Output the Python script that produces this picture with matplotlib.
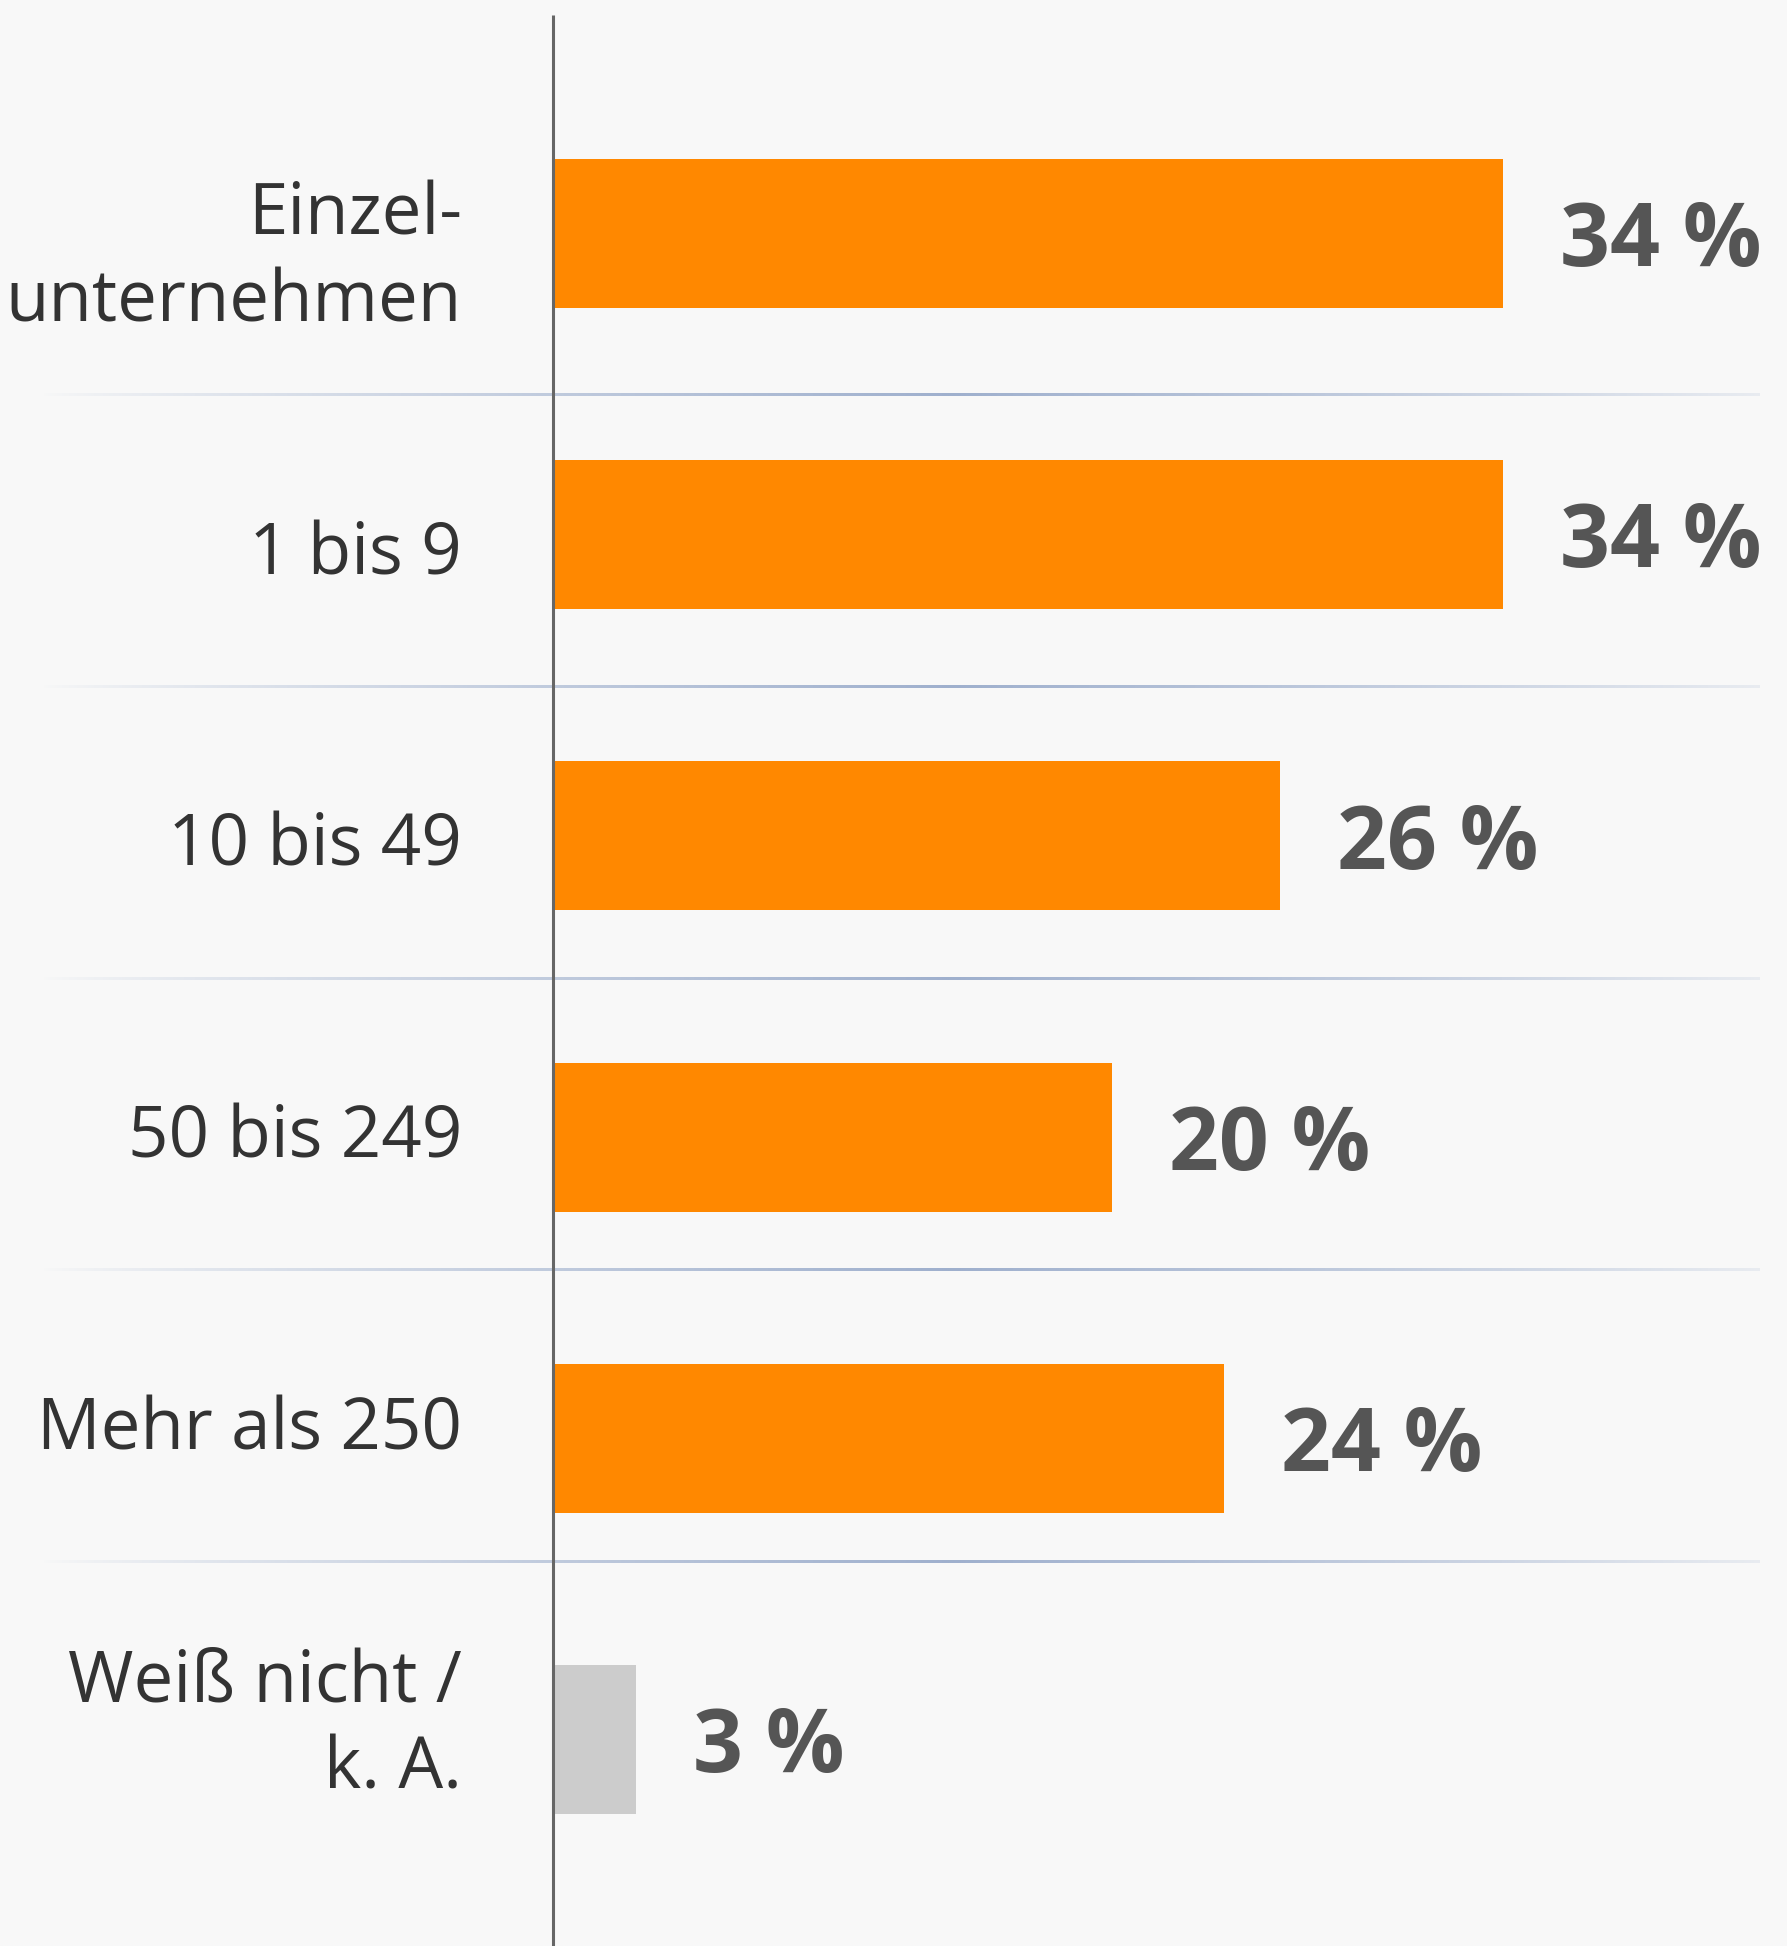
import numpy as np
import matplotlib
matplotlib.use('Agg')
import matplotlib.pyplot as plt

# Daten
kategorien = ['Einzel-\nunternehmen', '1 bis 9', '10 bis 49', '50 bis 249', 'Mehr als 250', 'Weiß nicht /\nk. A.']
werte = [34, 34, 26, 20, 24, 3]
farben = ['#ff8800', '#ff8800', '#ff8800', '#ff8800', '#ff8800', '#cccccc']
beschriftung = ['34 %', '34 %', '26 %', '20 %', '24 %', '3 %']

# vertikaler Versatz der Kategorietexte (pt)
versatz = [-7.5, -10.5, -10.5, -10.5, -10.5, -13]

plt.rcParams['font.family'] = ['Open Sans', 'DejaVu Sans']

W, H = 1787, 1946
fig = plt.figure(figsize=(W / 100, H / 100), dpi=100, facecolor='#f8f8f8')
ax = fig.add_axes([0, 0, 1, 1])
ax.set_facecolor('#f8f8f8')

# Skalen: x=0 bei Pixel 552, 28 px pro Prozentpunkt; Balken 301 px Abstand
px_x = 27.97
x0 = 552.5
ax.set_xlim(-x0 / px_x, (W - x0) / px_x)
px_y = 301.2
y0 = 233.5
ax.set_ylim((H - y0) / px_y, -y0 / px_y)

pos = np.arange(len(werte))
ax.barh(pos, werte, height=0.495, color=farben, zorder=2)

# Trennlinien mit Verlauf (Zeilen etwas enger als Balkenabstand)
zeile_px = 291.75
trenn_px = 395 + zeile_px * np.arange(5)
trenn = (trenn_px - y0) / px_y
zeilenmitte = (395 + zeile_px * (np.arange(len(werte)) - 0.5) - y0) / px_y

xs = np.linspace(0, 1, 400)
prof = np.clip(1 - np.abs(xs - 0.53) / 0.53, 0, 1) ** 0.8
img = np.zeros((1, len(xs), 4))
img[..., 0] = 0x8f / 255
img[..., 1] = 0xa3 / 255
img[..., 2] = 0xc6 / 255
img[..., 3] = prof * 0.85
xl, xr = (40 - x0) / px_x, (1760 - x0) / px_x
for t in trenn:
    ax.imshow(img, extent=(xl, xr, t + 1.2 / px_y, t - 1.2 / px_y), aspect='auto',
              interpolation='bilinear', zorder=1)

# Achse
ax.plot([0, 0], [(H - y0) / px_y, (15 - y0) / px_y], color='#666666', lw=2.2, zorder=3,
        solid_capstyle='butt')

for i, (w, lab, k) in enumerate(zip(werte, beschriftung, kategorien)):
    ax.annotate(lab, (w, i), xytext=(41, -7), textcoords='offset points',
                ha='left', va='center', fontsize=63, fontweight='bold', color='#555555')
    ax.annotate(k, ((462 - x0) / px_x, zeilenmitte[i]), xytext=(0, versatz[i]),
                textcoords='offset points', ha='right', va='center', fontsize=51,
                color='#333333', linespacing=1.28)

ax.axis('off')
fig.savefig('out.png', dpi=100, facecolor='#f8f8f8')
